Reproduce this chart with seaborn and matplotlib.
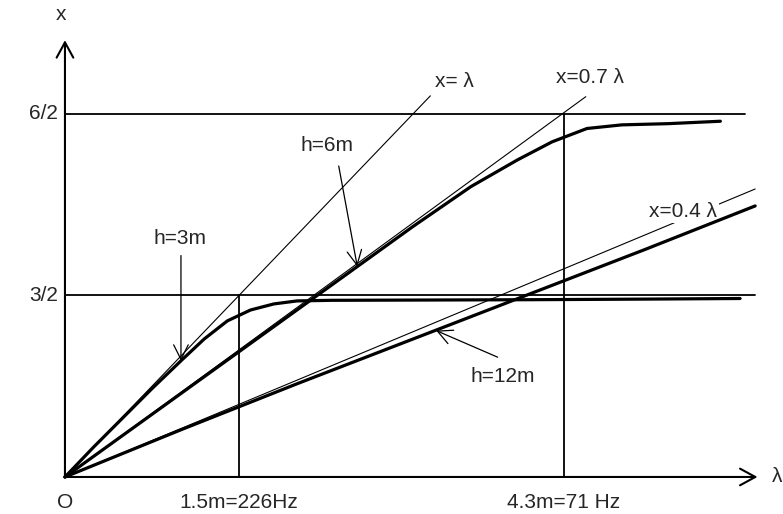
import matplotlib
matplotlib.use("Agg")
import matplotlib.pyplot as plt
import seaborn as sns

sns.set_theme(style="white")
plt.rcParams["font.family"] = ["Liberation Sans", "DejaVu Sans"]

# wavelength λ (m) and height x (m) for the three mounting heights
lam_3m = [0, 0.25, 0.5, 0.75, 1.0, 1.2, 1.4, 1.6, 1.8, 2.0, 2.3, 3.0, 4.0, 5.0, 5.82]
x_3m = [0, 0.25, 0.49, 0.73, 0.96, 1.14, 1.29, 1.38, 1.43, 1.455, 1.46, 1.462, 1.465, 1.47, 1.475]

lam_6m = [0, 1.0, 2.0, 3.0, 3.5, 3.9, 4.2, 4.5, 4.8, 5.2, 5.65]
x_6m = [0, 0.69, 1.38, 2.07, 2.40, 2.62, 2.77, 2.88, 2.91, 2.92, 2.94]

lam_12m = [0, 1, 2, 3, 4, 5, 5.95]
x_12m = [0, 0.39, 0.77, 1.14, 1.51, 1.88, 2.24]

# reference lines x = k·λ
ref_k = [1.0, 0.7, 0.4]
ref_end = [3.15, 4.49, 5.95]
ref_text = ["x= λ", "x=0.7 λ", "x=0.4 λ"]

# plateau levels h/2 and the wavelengths where they are reached
levels = [1.5, 3.0]
level_text = ["3/2", "6/2"]
level_end = [5.95, 5.86]
marks_lam = [1.5, 4.3]
marks_top = [1.5, 3.0]
marks_text = ["1.5m=226Hz", "4.3m=71 Hz"]

fig = plt.figure(figsize=(7.83, 5.14), dpi=100)
ax = fig.add_axes([0, 0, 1, 1])
ax.set_xlim(-0.560, 6.190)
ax.set_ylim(-0.306, 3.942)
ax.axis("off")

plain = dict(sort=False, estimator=None, color="black")
thin = dict(lw=0.8, **plain)
mid = dict(lw=1.3, **plain)
thick = dict(lw=2.3, **plain)

# reference lines
for k, end in zip(ref_k, ref_end):
    sns.lineplot(x=[0, end], y=[0, k * end], ax=ax, zorder=2, **thin)

# horizontal plateau levels and vertical wavelength marks
for lv, end in zip(levels, level_end):
    sns.lineplot(x=[0, end], y=[lv, lv], ax=ax, zorder=2, **mid)
for lm, top in zip(marks_lam, marks_top):
    sns.lineplot(x=[lm, lm], y=[0, top], ax=ax, zorder=2, **mid)

# curves for h = 3 m, 6 m, 12 m
for lam, xv in [(lam_3m, x_3m), (lam_6m, x_6m), (lam_12m, x_12m)]:
    sns.lineplot(x=lam, y=xv, ax=ax, zorder=4, **thick)

# axes with open arrow heads
axis_arrow = dict(arrowstyle="->,head_length=0.55,head_width=0.3", color="black", lw=1.5,
                  shrinkA=0, shrinkB=0, mutation_scale=20)
ax.annotate("", xy=(5.97, 0), xytext=(0, 0), arrowprops=axis_arrow, zorder=3)
ax.annotate("", xy=(0, 3.61), xytext=(0, 0), arrowprops=axis_arrow, zorder=3)

fs = 15
ax.text(6.14, 0, "λ", fontsize=fs, ha="center", va="center")
ax.text(-0.03, 3.82, "x", fontsize=fs, ha="center", va="center")
ax.text(0, -0.207, "O", fontsize=fs, ha="center", va="center")
for lm, t in zip(marks_lam, marks_text):
    ax.text(lm, -0.207, t, fontsize=fs, ha="center", va="center")
for lv, t in zip(levels, level_text):
    ax.text(-0.06, lv, t, fontsize=fs, ha="right", va="center")

# reference line labels
ax.text(3.36, 3.27, ref_text[0], fontsize=fs, ha="center", va="center")
ax.text(4.53, 3.30, ref_text[1], fontsize=fs, ha="center", va="center")
ax.text(5.33, 2.19, ref_text[2], fontsize=fs, ha="center", va="center", zorder=3,
        bbox=dict(facecolor="white", edgecolor="none", pad=1.0))

# curve labels with pointer arrows
pointer = dict(arrowstyle="->,head_length=0.7,head_width=0.35", color="black", lw=0.9,
               shrinkA=0, shrinkB=0, mutation_scale=15)
ax.annotate("", xy=(1.0, 0.96), xytext=(1.0, 1.83), arrowprops=pointer, zorder=5)
ax.text(0.99, 1.97, "h=3m", fontsize=fs, ha="center", va="center")
ax.annotate("", xy=(2.52, 1.74), xytext=(2.36, 2.57), arrowprops=pointer, zorder=5)
ax.text(2.26, 2.74, "h=6m", fontsize=fs, ha="center", va="center")
ax.annotate("", xy=(3.2, 1.21), xytext=(3.73, 0.99), arrowprops=pointer, zorder=5)
ax.text(3.77, 0.83, "h=12m", fontsize=fs, ha="center", va="center")

fig.savefig("out.png", dpi=100, facecolor="white")
